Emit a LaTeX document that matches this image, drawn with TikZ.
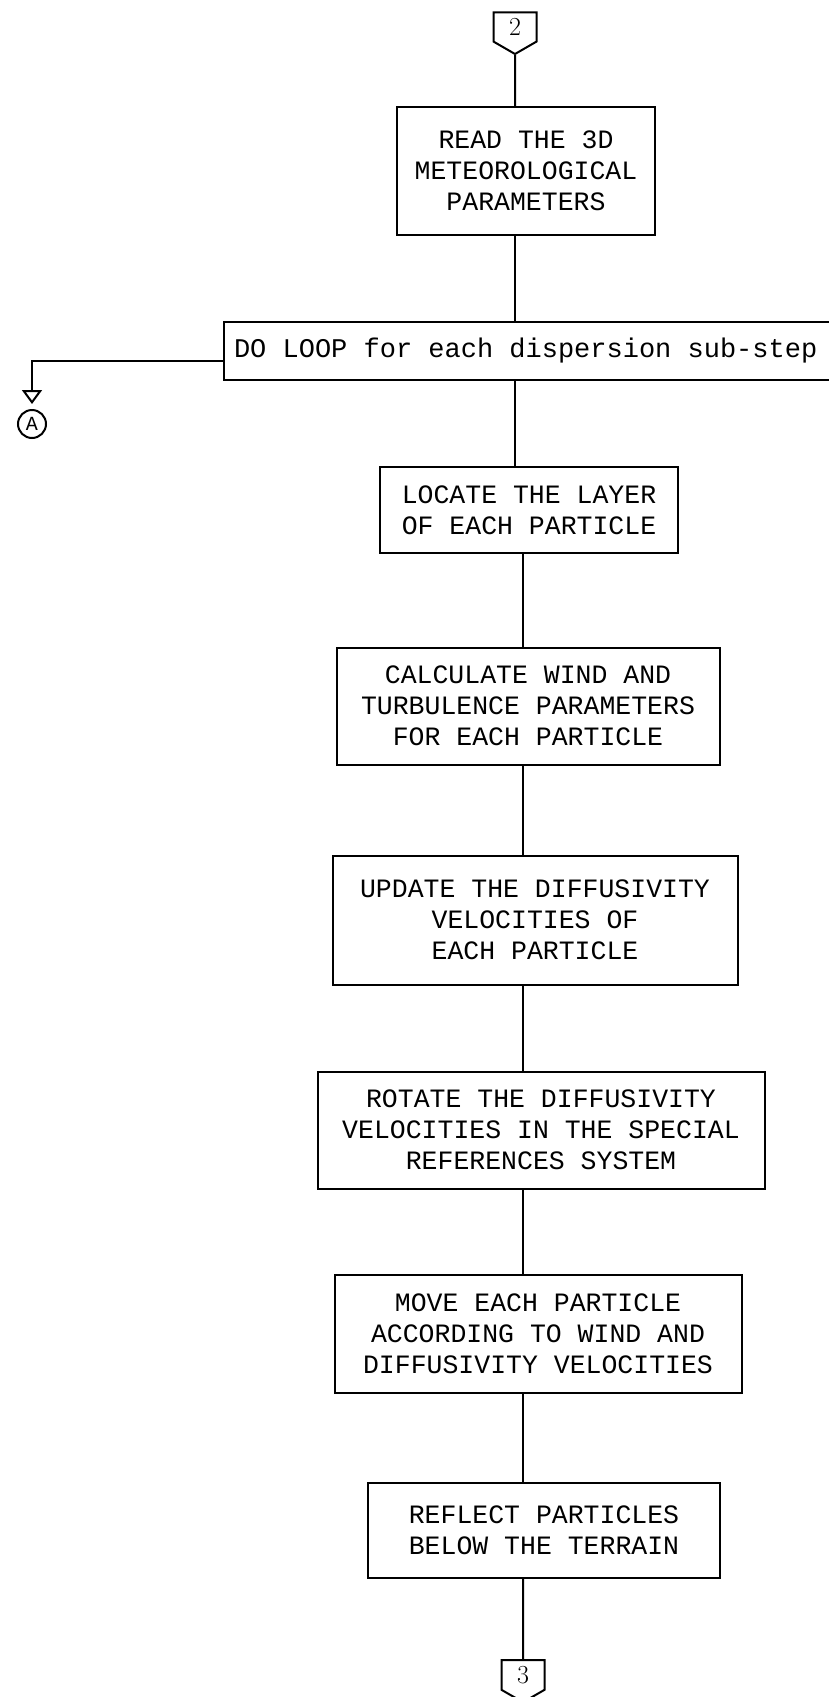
\documentclass[tikz,border=0pt]{standalone}
\usepackage{fontspec}
\setmonofont{Liberation Mono}
\usetikzlibrary{arrows.meta,shapes.symbols}
\begin{document}
\begin{tikzpicture}[x=1pt,y=-1pt,line width=2pt,
    nodes={font=\ttfamily\fontsize{26.5}{31}\selectfont,align=center,inner sep=0pt},
    box/.style={draw,rectangle},
    offpage/.style={draw,signal,signal to=south,signal pointer angle=120,
      font=\rmfamily\fontsize{26}{30}\selectfont,inner xsep=4pt,inner ysep=6pt,minimum width=43pt}]
    \clip (0,0) rectangle (829,1697);

    \node[offpage] (c2) at (515,27) {2};
    \node[box,minimum width=258,minimum height=128] (read) at (526,171) {READ THE 3D\\METEOROLOGICAL\\PARAMETERS};
    \node[box,anchor=west,text width=700,align=flush left,inner xsep=10pt,minimum height=58,
      font=\ttfamily\fontsize{27}{31}\selectfont] (loop) at (223,351) {DO LOOP for each dispersion sub-step};
    \node[draw,circle,minimum size=28,font=\ttfamily\fontsize{20}{20}\selectfont] (A) at (32,424) {A};
    \node[box,minimum width=298,minimum height=86] (locate) at (529,510) {LOCATE THE LAYER\\OF EACH PARTICLE};
    \node[box,minimum width=383,minimum height=117] (calc) at (528,706) {CALCULATE WIND AND\\TURBULENCE PARAMETERS\\FOR EACH PARTICLE};
    \node[box,minimum width=405,minimum height=129] (update) at (535,920) {UPDATE THE DIFFUSIVITY\\VELOCITIES OF\\EACH PARTICLE};
    \node[box,minimum width=447,minimum height=117] (rotate) at (541,1130) {ROTATE THE DIFFUSIVITY\\VELOCITIES IN THE SPECIAL\\REFERENCES SYSTEM};
    \node[box,minimum width=407,minimum height=118] (move) at (538,1334) {MOVE EACH PARTICLE\\ACCORDING TO WIND AND\\DIFFUSIVITY VELOCITIES};
    \node[box,minimum width=352,minimum height=95] (reflect) at (544,1530) {REFLECT PARTICLES\\BELOW THE TERRAIN};
    \node[offpage] (c3) at (523,1675) {3};

    \draw (c2) -- (c2 |- read.north);
    \draw (c2 |- read.south) -- (c2 |- loop.north);
    \draw (c2 |- loop.south) -- (c2 |- locate.north);
    \draw[-{Triangle[open,length=14pt,width=20pt]},shorten >=5pt] ([yshift=-10pt]loop.west) -| (A.north);
    \draw (c3 |- locate.south) -- (c3 |- calc.north);
    \draw (c3 |- calc.south) -- (c3 |- update.north);
    \draw (c3 |- update.south) -- (c3 |- rotate.north);
    \draw (c3 |- rotate.south) -- (c3 |- move.north);
    \draw (c3 |- move.south) -- (c3 |- reflect.north);
    \draw (c3 |- reflect.south) -- (c3);
\end{tikzpicture}
\end{document}
